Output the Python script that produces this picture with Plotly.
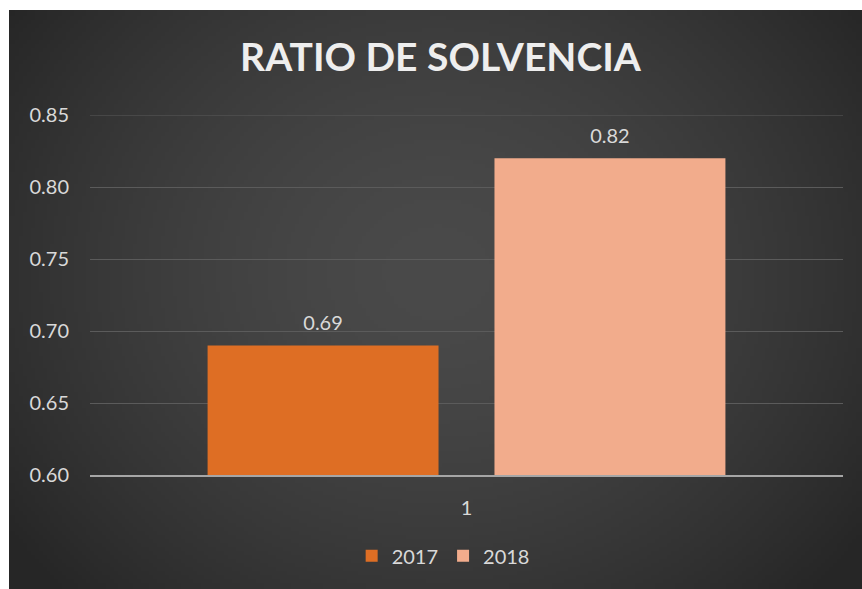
import base64
import struct
import zlib

import numpy as np
import plotly.graph_objects as go

# Data
categories = ["1"]
years = ["2017", "2018"]
ratio_2017 = [0.69]
ratio_2018 = [0.82]
bar_colors = ["#DE6E24", "#F2AC8C"]
y_ticks = [0.60, 0.65, 0.70, 0.75, 0.80, 0.85]

W, H = 862, 589
ML, MR, MT, MB = 90, 19, 115, 114
PW, PH = W - ML - MR, H - MT - MB
FONT = "Lato, 'Open Sans', sans-serif"
GRID = "#5b5b5b"


def radial_background(w=216, h=145, center="#4a4a4a", edge="#262626"):
    """Dark radial vignette encoded as a PNG data URI."""
    c0 = np.array([int(center[i:i + 2], 16) for i in (1, 3, 5)], float)
    c1 = np.array([int(edge[i:i + 2], 16) for i in (1, 3, 5)], float)
    yy, xx = np.mgrid[0:h, 0:w]
    dx = (xx - w * 0.50) / (w * 0.62)
    dy = (yy - h * 0.45) / (h * 0.80)
    r = np.clip(np.sqrt(dx ** 2 + dy ** 2), 0, 1)
    t = r ** 1.6
    img = (c0[None, None, :] * (1 - t[..., None]) + c1[None, None, :] * t[..., None])
    img = np.clip(img, 0, 255).astype(np.uint8)
    raw = b"".join(b"\x00" + img[row].tobytes() for row in range(h))

    def chunk(tag, data):
        body = tag + data
        return struct.pack(">I", len(data)) + body + struct.pack(">I", zlib.crc32(body) & 0xFFFFFFFF)

    png = (b"\x89PNG\r\n\x1a\n"
           + chunk(b"IHDR", struct.pack(">IIBBBBB", w, h, 8, 2, 0, 0, 0))
           + chunk(b"IDAT", zlib.compress(raw, 9))
           + chunk(b"IEND", b""))
    return "data:image/png;base64," + base64.b64encode(png).decode()


fig = go.Figure()
for name, vals, col in zip(years, [ratio_2017, ratio_2018], bar_colors):
    fig.add_trace(go.Bar(
        x=categories, y=vals, name=name,
        marker=dict(color=col, line=dict(width=0)),
        text=vals,
        # small base font keeps a short spacer line under the value label
        texttemplate="<span style='font-size:20px'>%{y:.2f}</span><br> ",
        textposition="outside",
        textfont=dict(family=FONT, size=8, color="#d9d9d9"),
        cliponaxis=False,
    ))

fig.update_layout(
    width=W, height=H,
    margin=dict(l=ML, r=MR, t=MT, b=MB),
    paper_bgcolor="#ffffff",
    plot_bgcolor="rgba(0,0,0,0)",
    font=dict(family=FONT, color="#d9d9d9"),
    barmode="group", bargap=0.238, bargroupgap=0.195,
    title=dict(text="<b>RATIO DE SOLVENCIA</b>", x=0.511, xanchor="center",
               y=1 - 57 / H, yanchor="middle",
               font=dict(family=FONT, size=39, color="#eeeeee")),
    showlegend=True,
    legend=dict(orientation="h", x=0.469, xanchor="center", y=-0.17, yanchor="top",
                font=dict(size=20, color="#d9d9d9"), bgcolor="rgba(0,0,0,0)",
                itemwidth=30, tracegroupgap=0),
    images=[dict(source=radial_background(), xref="paper", yref="paper",
                 x=(9 - ML) / PW, y=1 + (MT - 10) / PH,
                 sizex=(W - 9) / PW, sizey=(H - 10) / PH,
                 xanchor="left", yanchor="top", sizing="stretch", layer="below")],
    # gridline at the top of the value range
    shapes=[dict(type="line", xref="paper", yref="y", x0=0, x1=1,
                 y0=y_ticks[-1], y1=y_ticks[-1], layer="below",
                 line=dict(color=GRID, width=1))],
)

fig.update_xaxes(
    type="category", showgrid=False, zeroline=False,
    showline=True, linecolor="#a6a6a6", linewidth=2,
    ticks="", ticklabelstandoff=14,
    tickfont=dict(size=20, color="#d9d9d9"),
)
fig.update_yaxes(
    range=[0.60, 0.85], tickvals=y_ticks, ticktext=[f"{v:.2f}" for v in y_ticks],
    showgrid=True, gridcolor=GRID, gridwidth=1, zeroline=False,
    showline=False, ticks="", ticklabelstandoff=20,
    tickfont=dict(size=20, color="#d9d9d9"),
)

fig.write_html("out.html")
